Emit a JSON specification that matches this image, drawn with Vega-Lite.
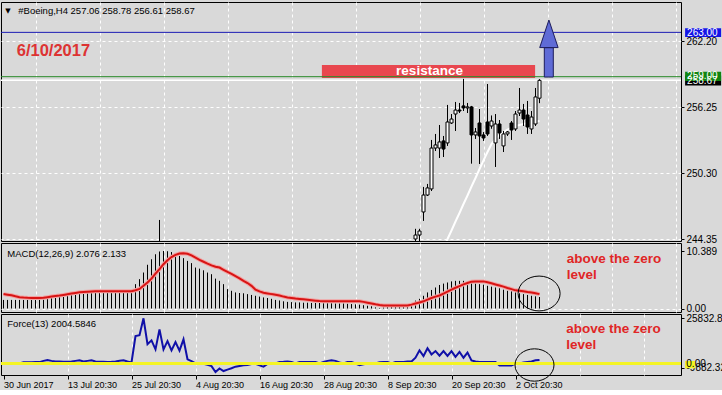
{
  "$schema": "https://vega.github.io/schema/vega-lite/v6.json",
  "background": "#d9d9d9",
  "padding": {"left": -5, "top": 1, "right": 0, "bottom": 0},
  "spacing": 2,
  "bounds": "flush",
  "resolve": {"scale": {"x": "shared"}},
  "config": {
    "view": {"stroke": "black", "strokeWidth": 1, "fill": "#d9d9d9"},
    "axis": {"labelFont": "Liberation Sans", "labelFontSize": 9.5, "labelColor": "black", "tickColor": "black", "domain": false, "gridColor": "white", "gridDash": [3, 3], "gridOpacity": 1, "gridWidth": 1, "labelOverlap": false, "labelFlush": false, "labelBound": false},
    "scale": {"continuousPadding": 0},
    "text": {"font": "Liberation Sans"}
  },
  "datasets": {
    "candles": [
      {"i": 39, "o": 238, "h": 246.07, "l": 236, "c": 239},
      {"i": 103, "o": 244.35, "h": 245.27, "l": 243.9, "c": 244.71},
      {"i": 104, "o": 244.71, "h": 245.27, "l": 244.0, "c": 245.07},
      {"i": 105, "o": 246.79, "h": 249.05, "l": 245.98, "c": 248.32},
      {"i": 106, "o": 248.32, "h": 249.32, "l": 248.23, "c": 248.96},
      {"i": 107, "o": 248.87, "h": 253.29, "l": 248.68, "c": 252.56},
      {"i": 108, "o": 252.56, "h": 253.83, "l": 252.29, "c": 252.84},
      {"i": 109, "o": 252.56, "h": 254.64, "l": 251.66, "c": 253.11},
      {"i": 110, "o": 253.2, "h": 253.65, "l": 251.75, "c": 252.47},
      {"i": 111, "o": 253.02, "h": 256.45, "l": 252.75, "c": 254.91},
      {"i": 112, "o": 254.82, "h": 255.63, "l": 254.73, "c": 255.18},
      {"i": 113, "o": 255.63, "h": 256.72, "l": 254.1, "c": 255.99},
      {"i": 114, "o": 255.99, "h": 256.63, "l": 255.72, "c": 255.9},
      {"i": 115, "o": 256.36, "h": 258.8, "l": 255.9, "c": 256.18},
      {"i": 116, "o": 256.18, "h": 256.63, "l": 255.72, "c": 256.27},
      {"i": 117, "o": 256.27, "h": 256.36, "l": 251.15, "c": 253.74},
      {"i": 118, "o": 253.74, "h": 254.37, "l": 253.38, "c": 254.01},
      {"i": 119, "o": 254.82, "h": 256.08, "l": 251.12, "c": 253.65},
      {"i": 120, "o": 253.74, "h": 254.0, "l": 253.2, "c": 253.47},
      {"i": 121, "o": 254.91, "h": 258.34, "l": 253.65, "c": 253.83},
      {"i": 122, "o": 254.55, "h": 255.5, "l": 254.3, "c": 255.0},
      {"i": 123, "o": 253.02, "h": 255.63, "l": 250.85, "c": 254.73},
      {"i": 124, "o": 254.73, "h": 255.09, "l": 253.38, "c": 253.92},
      {"i": 125, "o": 252.75, "h": 254.1, "l": 252.2, "c": 253.83},
      {"i": 126, "o": 253.83, "h": 254.1, "l": 253.65, "c": 254.01},
      {"i": 127, "o": 254.82, "h": 255.0, "l": 253.29, "c": 254.19},
      {"i": 128, "o": 254.28, "h": 255.9, "l": 254.1, "c": 255.63},
      {"i": 129, "o": 255.72, "h": 257.98, "l": 255.45, "c": 255.99},
      {"i": 130, "o": 255.99, "h": 256.54, "l": 254.55, "c": 255.18},
      {"i": 131, "o": 255.54, "h": 256.81, "l": 253.83, "c": 254.46},
      {"i": 132, "o": 254.28, "h": 255.9, "l": 253.83, "c": 255.36},
      {"i": 133, "o": 254.73, "h": 257.98, "l": 254.55, "c": 257.17},
      {"i": 134, "o": 257.06, "h": 258.78, "l": 256.61, "c": 258.67}
    ],
    "ma": [
      {"i": 110, "v": 243.5}, {"i": 111, "v": 244.35}, {"i": 112, "v": 245.12}, {"i": 113, "v": 245.93},
      {"i": 114, "v": 246.7}, {"i": 115, "v": 247.51}, {"i": 116, "v": 248.28}, {"i": 117, "v": 249.09},
      {"i": 118, "v": 249.86}, {"i": 119, "v": 250.67}, {"i": 120, "v": 251.44}, {"i": 121, "v": 252.2},
      {"i": 122, "v": 252.93}, {"i": 123, "v": 253.38}, {"i": 124, "v": 253.74}, {"i": 125, "v": 254.01},
      {"i": 126, "v": 254.23}, {"i": 127, "v": 254.41}, {"i": 128, "v": 254.55}, {"i": 129, "v": 254.64},
      {"i": 130, "v": 254.73}, {"i": 131, "v": 254.82}, {"i": 132, "v": 254.91}, {"i": 133, "v": 254.96},
      {"i": 134, "v": 255.0}
    ],
    "macd": [
      {"i": 0, "h": 1.55, "s": 2.6}, {"i": 1, "h": 1.55, "s": 2.5}, {"i": 2, "h": 1.55, "s": 2.4}, {"i": 3, "h": 1.55, "s": 2.2},
      {"i": 4, "h": 1.55, "s": 2.05}, {"i": 5, "h": 1.55, "s": 1.98}, {"i": 6, "h": 1.55, "s": 1.93}, {"i": 7, "h": 1.55, "s": 1.91},
      {"i": 8, "h": 1.55, "s": 1.9}, {"i": 9, "h": 1.55, "s": 1.91}, {"i": 10, "h": 1.6, "s": 1.95}, {"i": 11, "h": 2.0, "s": 2.05},
      {"i": 12, "h": 2.3, "s": 2.15}, {"i": 13, "h": 2.5, "s": 2.25}, {"i": 14, "h": 2.6, "s": 2.33}, {"i": 15, "h": 2.6, "s": 2.45},
      {"i": 16, "h": 2.65, "s": 2.57}, {"i": 17, "h": 2.7, "s": 2.7}, {"i": 18, "h": 2.8, "s": 2.82}, {"i": 19, "h": 2.9, "s": 2.92},
      {"i": 20, "h": 2.95, "s": 2.98}, {"i": 21, "h": 3.0, "s": 3.03}, {"i": 22, "h": 2.95, "s": 3.07}, {"i": 23, "h": 3.0, "s": 3.1},
      {"i": 24, "h": 2.95, "s": 3.11}, {"i": 25, "h": 2.95, "s": 3.11}, {"i": 26, "h": 3.0, "s": 3.11}, {"i": 27, "h": 2.95, "s": 3.11},
      {"i": 28, "h": 2.9, "s": 3.11}, {"i": 29, "h": 2.95, "s": 3.11}, {"i": 30, "h": 2.95, "s": 3.11}, {"i": 31, "h": 2.9, "s": 3.11},
      {"i": 32, "h": 3.0, "s": 3.11}, {"i": 33, "h": 4.4, "s": 3.3}, {"i": 34, "h": 5.3, "s": 3.53}, {"i": 35, "h": 6.5, "s": 4.1},
      {"i": 36, "h": 7.9, "s": 4.7}, {"i": 37, "h": 8.9, "s": 5.4}, {"i": 38, "h": 9.8, "s": 6.3}, {"i": 39, "h": 10.3, "s": 7.1},
      {"i": 40, "h": 10.389, "s": 8.0}, {"i": 41, "h": 10.35, "s": 8.7}, {"i": 42, "h": 10.2, "s": 9.3}, {"i": 43, "h": 9.8, "s": 9.7},
      {"i": 44, "h": 9.5, "s": 9.95}, {"i": 45, "h": 9.1, "s": 10.0}, {"i": 46, "h": 8.6, "s": 9.9}, {"i": 47, "h": 8.2, "s": 9.6},
      {"i": 48, "h": 7.4, "s": 9.2}, {"i": 49, "h": 7.2, "s": 8.8}, {"i": 50, "h": 6.9, "s": 8.45}, {"i": 51, "h": 6.5, "s": 8.1},
      {"i": 52, "h": 6.2, "s": 7.8}, {"i": 53, "h": 5.4, "s": 7.55}, {"i": 54, "h": 5.0, "s": 7.4}, {"i": 55, "h": 4.4, "s": 7.0},
      {"i": 56, "h": 3.5, "s": 6.6}, {"i": 57, "h": 3.2, "s": 6.25}, {"i": 58, "h": 2.9, "s": 5.85}, {"i": 59, "h": 2.8, "s": 5.45},
      {"i": 60, "h": 2.75, "s": 5.0}, {"i": 61, "h": 2.6, "s": 4.6}, {"i": 62, "h": 2.45, "s": 4.1}, {"i": 63, "h": 2.3, "s": 3.4},
      {"i": 64, "h": 2.15, "s": 3.1}, {"i": 65, "h": 2.0, "s": 2.85}, {"i": 66, "h": 1.9, "s": 2.72}, {"i": 67, "h": 1.75, "s": 2.6},
      {"i": 68, "h": 1.55, "s": 2.5}, {"i": 69, "h": 1.45, "s": 2.35}, {"i": 70, "h": 1.3, "s": 2.15}, {"i": 71, "h": 1.2, "s": 2.0},
      {"i": 72, "h": 1.15, "s": 1.9}, {"i": 73, "h": 1.1, "s": 1.8}, {"i": 74, "h": 1.1, "s": 1.72}, {"i": 75, "h": 1.05, "s": 1.65},
      {"i": 76, "h": 1.05, "s": 1.58}, {"i": 77, "h": 1.0, "s": 1.5}, {"i": 78, "h": 1.0, "s": 1.42}, {"i": 79, "h": 1.0, "s": 1.35},
      {"i": 80, "h": 0.95, "s": 1.31}, {"i": 81, "h": 0.95, "s": 1.31}, {"i": 82, "h": 0.95, "s": 1.31}, {"i": 83, "h": 0.9, "s": 1.31},
      {"i": 84, "h": 0.9, "s": 1.31}, {"i": 85, "h": 0.9, "s": 1.31}, {"i": 86, "h": 0.85, "s": 1.31}, {"i": 87, "h": 0.8, "s": 1.31},
      {"i": 88, "h": 0.75, "s": 1.31}, {"i": 89, "h": 0.7, "s": 1.31}, {"i": 90, "h": 0.6, "s": 1.2}, {"i": 91, "h": 0.5, "s": 1.05},
      {"i": 92, "h": 0.4, "s": 0.9}, {"i": 93, "h": 0.2, "s": 0.75}, {"i": 94, "h": 0.1, "s": 0.62}, {"i": 95, "h": 0.2, "s": 0.56},
      {"i": 96, "h": 0.4, "s": 0.54}, {"i": 97, "h": 0.5, "s": 0.54}, {"i": 98, "h": 0.55, "s": 0.54}, {"i": 99, "h": 0.6, "s": 0.54},
      {"i": 100, "h": 0.6, "s": 0.54}, {"i": 101, "h": 0.7, "s": 0.54}, {"i": 102, "h": 0.95, "s": 0.7}, {"i": 103, "h": 1.43, "s": 0.9},
      {"i": 104, "h": 1.75, "s": 1.1}, {"i": 105, "h": 2.3, "s": 1.3}, {"i": 106, "h": 2.9, "s": 1.6}, {"i": 107, "h": 3.35, "s": 1.9},
      {"i": 108, "h": 3.8, "s": 2.15}, {"i": 109, "h": 4.25, "s": 2.35}, {"i": 110, "h": 4.5, "s": 2.7}, {"i": 111, "h": 4.7, "s": 3.05},
      {"i": 112, "h": 4.9, "s": 3.4}, {"i": 113, "h": 5.0, "s": 3.75}, {"i": 114, "h": 5.0, "s": 4.05}, {"i": 115, "h": 5.0, "s": 4.35},
      {"i": 116, "h": 4.9, "s": 4.6}, {"i": 117, "h": 4.7, "s": 4.85}, {"i": 118, "h": 4.5, "s": 4.9}, {"i": 119, "h": 4.4, "s": 4.9},
      {"i": 120, "h": 4.3, "s": 4.9}, {"i": 121, "h": 4.1, "s": 4.75}, {"i": 122, "h": 3.95, "s": 4.55}, {"i": 123, "h": 3.8, "s": 4.35},
      {"i": 124, "h": 3.65, "s": 4.15}, {"i": 125, "h": 3.4, "s": 3.95}, {"i": 126, "h": 3.2, "s": 3.7}, {"i": 127, "h": 3.1, "s": 3.5},
      {"i": 128, "h": 2.9, "s": 3.28}, {"i": 129, "h": 2.75, "s": 3.2}, {"i": 130, "h": 2.6, "s": 3.13}, {"i": 131, "h": 2.45, "s": 3.0},
      {"i": 132, "h": 2.3, "s": 2.9}, {"i": 133, "h": 2.2, "s": 2.75}, {"i": 134, "h": 2.076, "s": 2.6}
    ],
    "force": [
      {"i": 0, "f": 0}, {"i": 1, "f": 0}, {"i": 2, "f": 0}, {"i": 3, "f": 0}, {"i": 4, "f": 0}, {"i": 5, "f": 700},
      {"i": 6, "f": 750}, {"i": 7, "f": 750}, {"i": 8, "f": 800}, {"i": 9, "f": 800}, {"i": 10, "f": 1500}, {"i": 11, "f": 2000},
      {"i": 12, "f": 1500}, {"i": 13, "f": 1200}, {"i": 14, "f": 1100}, {"i": 15, "f": 1000}, {"i": 16, "f": 1000}, {"i": 17, "f": 1100},
      {"i": 18, "f": 1500}, {"i": 19, "f": 1900}, {"i": 20, "f": 1200}, {"i": 21, "f": 1500}, {"i": 22, "f": 1800}, {"i": 23, "f": 1200},
      {"i": 24, "f": 1000}, {"i": 25, "f": 1000}, {"i": 26, "f": 900}, {"i": 27, "f": 1000}, {"i": 28, "f": 1200}, {"i": 29, "f": 1600},
      {"i": 30, "f": 1800}, {"i": 31, "f": 1100}, {"i": 32, "f": 600}, {"i": 33, "f": 15700}, {"i": 34, "f": 16200}, {"i": 35, "f": 25832},
      {"i": 36, "f": 11000}, {"i": 37, "f": 13200}, {"i": 38, "f": 8100}, {"i": 39, "f": 19500}, {"i": 40, "f": 8100}, {"i": 41, "f": 12800},
      {"i": 42, "f": 7500}, {"i": 43, "f": 12300}, {"i": 44, "f": 7400}, {"i": 45, "f": 13800}, {"i": 46, "f": 2400}, {"i": 47, "f": 1400},
      {"i": 48, "f": 100}, {"i": 49, "f": 0}, {"i": 50, "f": -200}, {"i": 51, "f": -800}, {"i": 52, "f": -1500}, {"i": 53, "f": -4900},
      {"i": 54, "f": -2800}, {"i": 55, "f": -4300}, {"i": 56, "f": -3500}, {"i": 57, "f": -2700}, {"i": 58, "f": -1800}, {"i": 59, "f": -1400},
      {"i": 60, "f": -1000}, {"i": 61, "f": -800}, {"i": 62, "f": -300}, {"i": 63, "f": -200}, {"i": 64, "f": -1100}, {"i": 65, "f": -1800},
      {"i": 66, "f": -200}, {"i": 67, "f": 0}, {"i": 68, "f": 0}, {"i": 69, "f": 900}, {"i": 70, "f": 1000}, {"i": 71, "f": 1200},
      {"i": 72, "f": 900}, {"i": 73, "f": 0}, {"i": 74, "f": 900}, {"i": 75, "f": 900}, {"i": 76, "f": 900}, {"i": 77, "f": 900},
      {"i": 78, "f": 900}, {"i": 79, "f": 0}, {"i": 80, "f": 900}, {"i": 81, "f": 1500}, {"i": 82, "f": 1800}, {"i": 83, "f": 1500},
      {"i": 84, "f": 600}, {"i": 85, "f": 0}, {"i": 86, "f": 900}, {"i": 87, "f": 900}, {"i": 88, "f": 0}, {"i": 89, "f": -1000},
      {"i": 90, "f": -400}, {"i": 91, "f": 0}, {"i": 92, "f": 0}, {"i": 93, "f": 0}, {"i": 94, "f": 700}, {"i": 95, "f": 900},
      {"i": 96, "f": 900}, {"i": 97, "f": 0}, {"i": 98, "f": 900}, {"i": 99, "f": 900}, {"i": 100, "f": 900}, {"i": 101, "f": 1100},
      {"i": 102, "f": 1200}, {"i": 103, "f": 3300}, {"i": 104, "f": 7500}, {"i": 105, "f": 4300}, {"i": 106, "f": 8700}, {"i": 107, "f": 5200},
      {"i": 108, "f": 7100}, {"i": 109, "f": 4500}, {"i": 110, "f": 7100}, {"i": 111, "f": 4300}, {"i": 112, "f": 7100}, {"i": 113, "f": 3800},
      {"i": 114, "f": 6600}, {"i": 115, "f": 3300}, {"i": 116, "f": 6200}, {"i": 117, "f": 1800}, {"i": 118, "f": 1100}, {"i": 119, "f": 900},
      {"i": 120, "f": 900}, {"i": 121, "f": 900}, {"i": 122, "f": 900}, {"i": 123, "f": 900}, {"i": 124, "f": -1100}, {"i": 125, "f": -1100},
      {"i": 126, "f": -1100}, {"i": 127, "f": -1100}, {"i": 128, "f": 0}, {"i": 129, "f": 0}, {"i": 130, "f": 600}, {"i": 131, "f": 900},
      {"i": 132, "f": 1100}, {"i": 133, "f": 1800}, {"i": 134, "f": 2004.58}
    ]
  },
  "vconcat": [
    {
      "width": 680,
      "height": 239,
      "layer": [
        {
          "data": {"name": "ma"},
          "mark": {"type": "line", "color": "white", "strokeWidth": 2, "clip": true},
          "encoding": {
            "x": {"field": "i", "type": "quantitative", "title": null, "scale": {"domain": [-0.625, 169.375], "nice": false, "zero": false, "padding": 0},
              "axis": {"values": [8, 16, 24, 32, 40, 48, 56, 64, 72, 80, 88, 96, 104, 112, 120, 128, 136, 144, 152, 160, 168], "labels": false, "ticks": false, "grid": true}},
            "y": {"field": "v", "type": "quantitative", "title": null, "scale": {"domain": [244.17, 265.74], "nice": false, "zero": false, "padding": 0},
              "axis": {"orient": "right", "values": [244.35, 247.35, 250.3, 253.3, 256.25, 259.25, 262.2, 265.2], "format": ".2f", "grid": true, "tickSize": 3, "labelPadding": 2, "labelFontSize": 10}}
          }
        },
        {
          "data": {"values": [{"a": 79.6, "b": 132.9, "lo": 258.88, "hi": 260.06}]},
          "mark": {"type": "rect", "fill": "#e8474f"},
          "encoding": {
            "x": {"field": "a", "type": "quantitative", "title": null}, "x2": {"field": "b"},
            "y": {"field": "lo", "type": "quantitative", "title": null}, "y2": {"field": "hi"}
          }
        },
        {
          "data": {"values": [{"i": 106.5, "p": 259.5, "t": "resistance"}]},
          "mark": {"type": "text", "color": "white", "fontSize": 13.5, "fontWeight": "bold", "align": "center", "baseline": "middle"},
          "encoding": {"x": {"field": "i", "type": "quantitative", "title": null}, "y": {"field": "p", "type": "quantitative", "title": null}, "text": {"field": "t"}}
        },
        {
          "data": {"values": [{"p": 263}]},
          "mark": {"type": "rule", "color": "#1c1cb4", "strokeWidth": 1},
          "encoding": {"y": {"field": "p", "type": "quantitative", "title": null}}
        },
        {
          "data": {"values": [{"p": 259}]},
          "mark": {"type": "rule", "color": "#2a8a2a", "strokeWidth": 1},
          "encoding": {"y": {"field": "p", "type": "quantitative", "title": null}}
        },
        {
          "data": {"values": [{"p": 258.67}]},
          "mark": {"type": "rule", "color": "white", "strokeWidth": 1.5},
          "encoding": {"y": {"field": "p", "type": "quantitative", "title": null}}
        },
        {
          "data": {"name": "candles"},
          "mark": {"type": "rule", "color": "black", "strokeWidth": 1, "clip": true},
          "encoding": {"x": {"field": "i", "type": "quantitative", "title": null}, "y": {"field": "l", "type": "quantitative", "title": null}, "y2": {"field": "h"}}
        },
        {
          "data": {"name": "candles"},
          "mark": {"type": "rect", "width": 3, "stroke": "black", "strokeWidth": 1, "clip": true},
          "encoding": {
            "x": {"field": "i", "type": "quantitative", "title": null},
            "y": {"field": "o", "type": "quantitative", "title": null}, "y2": {"field": "c"},
            "fill": {"condition": {"test": "datum.c >= datum.o", "value": "white"}, "value": "black"}
          }
        },
        {
          "data": {"values": [{"a": 135.2, "b": 137.45, "lo": 258.97, "hi": 261.62}]},
          "mark": {"type": "rect", "fill": "#5f6bd6", "stroke": "#1c1c5c", "strokeWidth": 1},
          "encoding": {
            "x": {"field": "a", "type": "quantitative", "title": null}, "x2": {"field": "b"},
            "y": {"field": "lo", "type": "quantitative", "title": null}, "y2": {"field": "hi"}
          }
        },
        {
          "data": {"values": [{"i": 136.35, "p": 262.87}]},
          "mark": {"type": "point", "shape": "M-0.667,1L0,-1L0.667,1Z", "size": 760, "filled": true, "fill": "#5f6bd6", "stroke": "#1c1c5c", "strokeWidth": 1, "opacity": 1},
          "encoding": {"x": {"field": "i", "type": "quantitative", "title": null}, "y": {"field": "p", "type": "quantitative", "title": null}}
        },
        {
          "data": {"values": [{"i": 3.3, "p": 261.36, "t": "6/10/2017"}]},
          "mark": {"type": "text", "color": "#dd3333", "fontSize": 16.5, "fontWeight": "bold", "align": "left", "baseline": "middle"},
          "encoding": {"x": {"field": "i", "type": "quantitative", "title": null}, "y": {"field": "p", "type": "quantitative", "title": null}, "text": {"field": "t"}}
        },
        {
          "data": {"values": [{"i": 1.1, "p": 264.9, "t": "▼"}]},
          "mark": {"type": "text", "color": "black", "fontSize": 7, "font": "DejaVu Sans", "align": "center", "baseline": "middle"},
          "encoding": {"x": {"field": "i", "type": "quantitative", "title": null}, "y": {"field": "p", "type": "quantitative", "title": null}, "text": {"field": "t"}}
        },
        {
          "data": {"values": [{"i": 3.7, "p": 264.9, "t": "#Boeing,H4  257.06 258.78 256.61 258.67"}]},
          "mark": {"type": "text", "color": "black", "fontSize": 9.5, "align": "left", "baseline": "middle"},
          "encoding": {"x": {"field": "i", "type": "quantitative", "title": null}, "y": {"field": "p", "type": "quantitative", "title": null}, "text": {"field": "t"}}
        },
        {
          "data": {"values": [{"a": 170.4, "b": 179.4, "lo": 258.21, "hi": 259.11}]},
          "mark": {"type": "rect", "fill": "black", "clip": false},
          "encoding": {"x": {"field": "a", "type": "quantitative", "title": null}, "x2": {"field": "b"}, "y": {"field": "lo", "type": "quantitative", "title": null}, "y2": {"field": "hi"}}
        },
        {
          "data": {"values": [{"a": 170.4, "b": 179.4, "lo": 258.6, "hi": 259.45}]},
          "mark": {"type": "rect", "fill": "#118411", "clip": false},
          "encoding": {"x": {"field": "a", "type": "quantitative", "title": null}, "x2": {"field": "b"}, "y": {"field": "lo", "type": "quantitative", "title": null}, "y2": {"field": "hi"}}
        },
        {
          "data": {"values": [{"a": 170.4, "b": 179.4, "lo": 262.58, "hi": 263.37}]},
          "mark": {"type": "rect", "fill": "#1414e6", "clip": false},
          "encoding": {"x": {"field": "a", "type": "quantitative", "title": null}, "x2": {"field": "b"}, "y": {"field": "lo", "type": "quantitative", "title": null}, "y2": {"field": "hi"}}
        },
        {
          "data": {"values": [{"i": 170.9, "p": 262.98, "t": "263.00"}, {"i": 170.9, "p": 259.02, "t": "259.00"}, {"i": 170.9, "p": 258.6, "t": "258.67"}]},
          "mark": {"type": "text", "color": "white", "fontSize": 10, "align": "left", "baseline": "middle", "clip": false},
          "encoding": {"x": {"field": "i", "type": "quantitative", "title": null}, "y": {"field": "p", "type": "quantitative", "title": null}, "text": {"field": "t"}}
        }
      ]
    },
    {
      "width": 680,
      "height": 69,
      "layer": [
        {
          "data": {"name": "macd"},
          "mark": {"type": "rule", "color": "black", "strokeWidth": 1},
          "encoding": {
            "x": {"field": "i", "type": "quantitative", "title": null, "scale": {"domain": [-0.625, 169.375], "nice": false, "zero": false, "padding": 0},
              "axis": {"values": [8, 16, 24, 32, 40, 48, 56, 64, 72, 80, 88, 96, 104, 112, 120, 128, 136, 144, 152, 160, 168], "labels": false, "ticks": false, "grid": true}},
            "y": {"field": "h", "type": "quantitative", "title": null, "scale": {"domain": [-0.632, 11.835], "nice": false, "zero": false},
              "axis": {"orient": "right", "values": [0, 0.623, 10.389], "labelExpr": "datum.value == 0 ? '0.00' : format(datum.value, '.3f')", "grid": true, "gridOpacity": {"condition": {"test": "datum.value == 0", "value": 1}, "value": 0}, "tickSize": 3, "labelPadding": 2, "labelFontSize": 10}},
            "y2": {"datum": 0}
          }
        },
        {
          "data": {"name": "macd"},
          "mark": {"type": "line", "color": "#f2a3a3", "strokeWidth": 4},
          "encoding": {"x": {"field": "i", "type": "quantitative", "title": null}, "y": {"field": "s", "type": "quantitative", "title": null}}
        },
        {
          "data": {"name": "macd"},
          "mark": {"type": "line", "color": "#d81414", "strokeWidth": 2},
          "encoding": {"x": {"field": "i", "type": "quantitative", "title": null}, "y": {"field": "s", "type": "quantitative", "title": null}}
        },
        {
          "data": {"values": [{"i": 133.9, "v": 2.71}]},
          "mark": {"type": "point", "shape": "M-1,0C-1,-0.458,-0.552,-0.83,0,-0.83C0.552,-0.83,1,-0.458,1,0C1,0.458,0.552,0.83,0,0.83C-0.552,0.83,-1,0.458,-1,0Z", "size": 1764, "filled": false, "stroke": "black", "strokeWidth": 1, "opacity": 1, "clip": false},
          "encoding": {"x": {"field": "i", "type": "quantitative", "title": null}, "y": {"field": "v", "type": "quantitative", "title": null}}
        },
        {
          "data": {"values": [{"i": 0.95, "v": 9.9, "t": "MACD(12,26,9) 2.076 2.133"}]},
          "mark": {"type": "text", "color": "black", "fontSize": 9.5, "align": "left", "baseline": "middle"},
          "encoding": {"x": {"field": "i", "type": "quantitative", "title": null}, "y": {"field": "v", "type": "quantitative", "title": null}, "text": {"field": "t"}}
        },
        {
          "data": {"values": [{"i": 140.8, "v": 9.0, "t": "above the zero"}, {"i": 140.8, "v": 6.14, "t": "level"}]},
          "mark": {"type": "text", "color": "#e02626", "fontSize": 13.5, "fontWeight": "bold", "align": "left", "baseline": "middle"},
          "encoding": {"x": {"field": "i", "type": "quantitative", "title": null}, "y": {"field": "v", "type": "quantitative", "title": null}, "text": {"field": "t"}}
        }
      ]
    },
    {
      "width": 680,
      "height": 61,
      "layer": [
        {
          "data": {"name": "force"},
          "mark": {"type": "line", "color": "#1010a8", "strokeWidth": 2},
          "encoding": {
            "x": {"field": "i", "type": "quantitative", "title": null, "scale": {"domain": [-0.625, 169.375], "nice": false, "zero": false, "padding": 0},
              "axis": {"values": [0, 8, 16, 24, 32, 40, 48, 56, 64, 72, 80, 88, 96, 104, 112, 120, 128, 136, 144, 152, 160, 168], "grid": true, "gridOpacity": {"condition": {"test": "datum.value == 0", "value": 0}, "value": 1}, "tickSize": 4, "labelAlign": "left", "labelPadding": 1, "labelFontSize": 9,
                "labelExpr": "(datum.value % 16 == 0 && datum.value <= 128) ? ['30 Jun 2017','13 Jul 20:30','25 Jul 20:30','4 Aug 20:30','16 Aug 20:30','28 Aug 20:30','8 Sep 20:30','20 Sep 20:30','2 Oct 20:30'][datum.value / 16] : ''",
                "tickOpacity": {"condition": {"test": "datum.value % 16 == 0 && datum.value <= 128", "value": 1}, "value": 0}}},
            "y": {"field": "f", "type": "quantitative", "title": null, "scale": {"domain": [-6571, 28286], "nice": false, "zero": false},
              "axis": {"orient": "right", "values": [-2571, 0, 25832.87], "labelExpr": "datum.value < -1 ? '-9882.32' : (datum.value > 1 ? '25832.87' : '')", "grid": false, "tickSize": 3, "labelPadding": 2, "labelFontSize": 10}}
          }
        },
        {
          "data": {"values": [{"p": 0}]},
          "mark": {"type": "rule", "color": "#f4f424", "strokeWidth": 3},
          "encoding": {"y": {"field": "p", "type": "quantitative", "title": null}}
        },
        {
          "data": {"values": [{"i": 132.75, "v": -857}]},
          "mark": {"type": "point", "shape": "M-1,0C-1,-0.458,-0.552,-0.83,0,-0.83C0.552,-0.83,1,-0.458,1,0C1,0.458,0.552,0.83,0,0.83C-0.552,0.83,-1,0.458,-1,0Z", "size": 1521, "filled": false, "stroke": "black", "strokeWidth": 1, "opacity": 1, "clip": false},
          "encoding": {"x": {"field": "i", "type": "quantitative", "title": null}, "y": {"field": "v", "type": "quantitative", "title": null}}
        },
        {
          "data": {"values": [{"i": 0.95, "v": 22743, "t": "Force(13) 2004.5846"}]},
          "mark": {"type": "text", "color": "black", "fontSize": 9.5, "align": "left", "baseline": "middle"},
          "encoding": {"x": {"field": "i", "type": "quantitative", "title": null}, "y": {"field": "v", "type": "quantitative", "title": null}, "text": {"field": "t"}}
        },
        {
          "data": {"values": [{"i": 140.7, "v": 19714, "t": "above the zero"}, {"i": 140.7, "v": 10686, "t": "level"}]},
          "mark": {"type": "text", "color": "#e02626", "fontSize": 13.5, "fontWeight": "bold", "align": "left", "baseline": "middle"},
          "encoding": {"x": {"field": "i", "type": "quantitative", "title": null}, "y": {"field": "v", "type": "quantitative", "title": null}, "text": {"field": "t"}}
        },
        {
          "data": {"values": [{"a": 170.4, "b": 172.9, "lo": -2743, "hi": 1429}]},
          "mark": {"type": "rect", "fill": "#f4f424", "clip": false},
          "encoding": {"x": {"field": "a", "type": "quantitative", "title": null}, "x2": {"field": "b"}, "y": {"field": "lo", "type": "quantitative", "title": null}, "y2": {"field": "hi"}}
        },
        {
          "data": {"values": [{"i": 170.7, "v": 0, "t": "0.00"}]},
          "mark": {"type": "text", "color": "black", "fontSize": 10, "align": "left", "baseline": "middle", "clip": false},
          "encoding": {"x": {"field": "i", "type": "quantitative", "title": null}, "y": {"field": "v", "type": "quantitative", "title": null}, "text": {"field": "t"}}
        }
      ]
    }
  ]
}
